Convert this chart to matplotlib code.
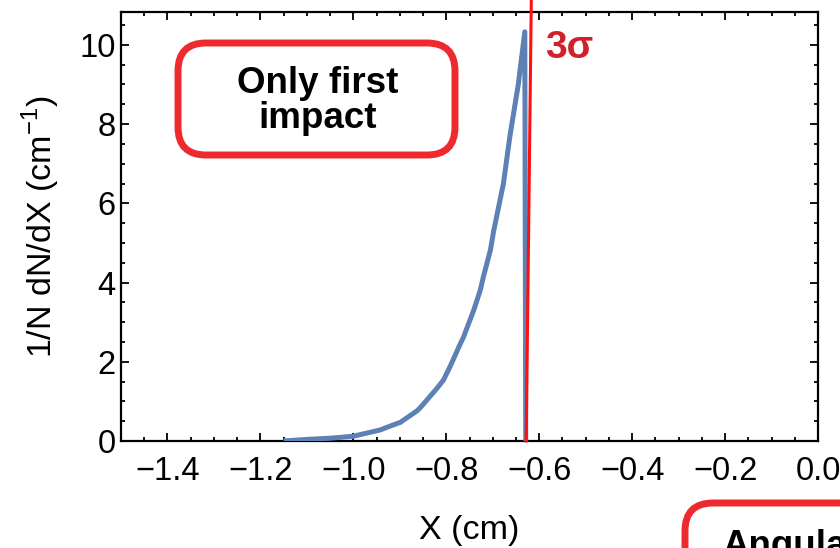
import matplotlib
matplotlib.use("Agg")
import matplotlib.pyplot as plt
from matplotlib.patches import FancyBboxPatch
from matplotlib.transforms import IdentityTransform
from matplotlib.ticker import MultipleLocator

plt.rcParams['font.family'] = ['Liberation Sans', 'DejaVu Sans']

# Distribution of first impact position
x_vals = [-1.15, -1.10, -1.05, -1.00, -0.942, -0.920, -0.899, -0.863, -0.856,
          -0.820, -0.806, -0.791, -0.770, -0.763, -0.741, -0.727, -0.720,
          -0.705, -0.698, -0.677, -0.663, -0.645, -0.631, -0.629]
y_vals = [0.0, 0.04, 0.07, 0.12, 0.28, 0.38, 0.47, 0.76, 0.84,
          1.33, 1.54, 1.90, 2.45, 2.62, 3.30, 3.80, 4.15,
          4.82, 5.30, 6.50, 7.70, 9.00, 10.33, 0.0]

# 3 sigma cut line (slightly tilted overlay, bottom -> top)
cut_x = [-0.628, -0.617]
cut_y = [0.0, 11.14]

x_ticks = [-1.4, -1.2, -1.0, -0.8, -0.6, -0.4, -0.2, 0.0]
x_ticklabels = ["\u22121.4", "\u22121.2", "\u22121.0", "\u22120.8", "\u22120.6", "\u22120.4", "\u22120.2", "0.0"]
y_ticks = [0, 2, 4, 6, 8, 10]

W, H = 840, 548
fig = plt.figure(figsize=(W / 100, H / 100), dpi=100)
ax = fig.add_axes([121 / W, (H - 441) / H, (818 - 121) / W, (441 - 12) / H])

ax.plot(x_vals, y_vals, color='#5e81b5', lw=3.6, solid_joinstyle='round',
        solid_capstyle='butt', zorder=3)
ax.plot(cut_x, cut_y, color='#ff1010', lw=2.2, clip_on=False, zorder=4)

ax.set_xlim(-1.5, 0.0)
ax.set_ylim(0, 10.83)
ax.set_xticks(x_ticks)
ax.set_xticklabels(x_ticklabels)
ax.set_yticks(y_ticks)
ax.xaxis.set_minor_locator(MultipleLocator(0.05))
ax.yaxis.set_minor_locator(MultipleLocator(0.5))
ax.tick_params(which='both', direction='in', top=True, right=True, color='black', width=1.3)
ax.tick_params(which='major', length=6)
ax.tick_params(which='minor', length=3)
ax.tick_params(axis='x', which='major', labelsize=23.5, pad=11)
ax.tick_params(axis='y', which='major', labelsize=23.5, pad=4)
for s in ax.spines.values():
    s.set_linewidth(1.6)

ax.set_xlabel("X (cm)", fontsize=24.5, labelpad=20)
ax.set_ylabel("1/N dN/dX (cm$^{\\mathregular{-1}}$)", fontsize=24.5, labelpad=12)

# "3σ" label
fig.text(545 / W, (H - 58) / H, "3\u03c3", fontsize=28, fontweight='bold',
         color='#d0202a', ha='left', va='baseline')

# Rounded annotation box "Only first impact"
box1 = FancyBboxPatch((178, H - 155), 277, 112,
                      boxstyle="round,pad=0,rounding_size=28",
                      transform=IdentityTransform(), fill=False,
                      edgecolor='#ee2a2e', linewidth=5)
fig.add_artist(box1)
fig.text(318 / W, (H - 101) / H, "Only first\nimpact", fontsize=26.5, fontweight='bold',
         ha='center', va='center', linespacing=1.0, color='black')

# Second box (cut off by figure edge, as in the original)
box2 = FancyBboxPatch((685, -60), 260, H - 503 + 60,
                      boxstyle="round,pad=0,rounding_size=28",
                      transform=IdentityTransform(), fill=False,
                      edgecolor='#ee2a2e', linewidth=5)
fig.add_artist(box2)
fig.text(722 / W, (H - 556) / H, "Angular", fontsize=26.5, fontweight='bold',
         ha='left', va='baseline', color='black')

fig.savefig("out.png", dpi=100)
